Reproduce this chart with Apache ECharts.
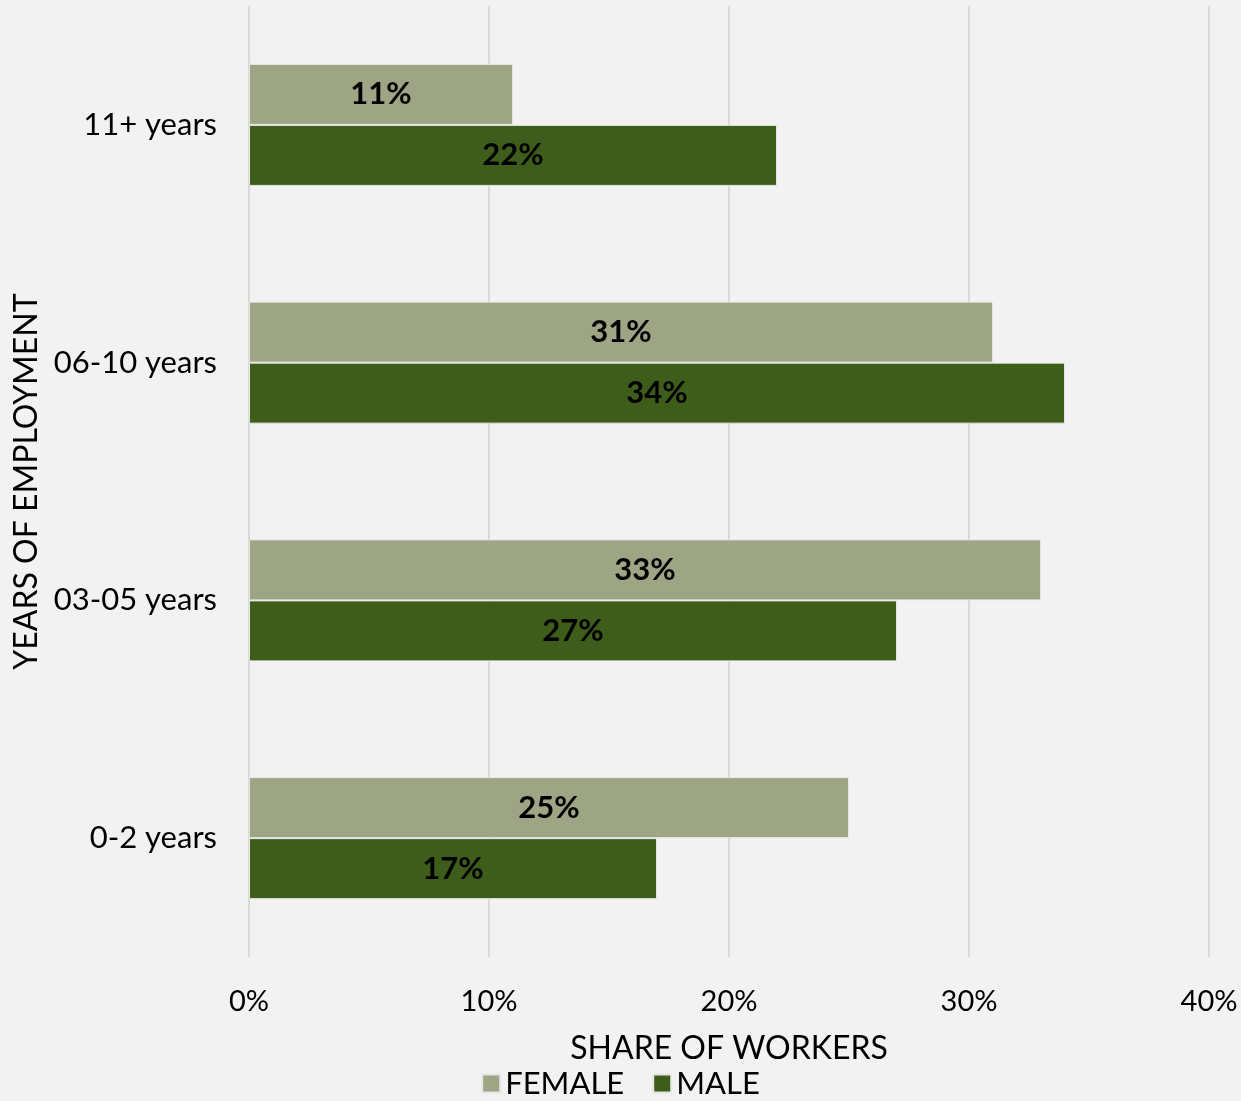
<!DOCTYPE html>
<html><head><meta charset="utf-8">
<script src="https://cdn.jsdelivr.net/npm/echarts@6/dist/echarts.min.js"></script>
<style>html,body{margin:0;padding:0;background:#F2F2F2;}#c{width:1241px;height:1101px;}</style>
</head><body><div id="c"></div>
<script>
const categories = ['0-2 years', '03-05 years', '06-10 years', '11+ years'];
const female = [25, 33, 31, 11];
const male = [17, 27, 34, 22];
const xTicks = [0, 10, 20, 30, 40];

const FONT = 'Lato';
const chart = echarts.init(document.getElementById('c'));
const lbl = {show: true, position: 'inside', formatter: '{c}%', color: '#000', fontFamily: FONT, fontWeight: 'bold', fontSize: 31};
chart.setOption({
  backgroundColor: '#F2F2F2',
  animation: false,
  grid: {left: 249, right: 32, top: 6, bottom: 144, containLabel: false, outerBoundsMode: 'none'},
  legend: {
    data: ['FEMALE', 'MALE'], bottom: -3, left: 'center', itemWidth: 18, itemHeight: 18, itemGap: 28,
    textStyle: {fontFamily: FONT, fontSize: 31, color: '#000'}, icon: 'rect'
  },
  xAxis: {
    type: 'value', min: xTicks[0], max: xTicks[xTicks.length - 1], interval: 10,
    name: 'SHARE OF WORKERS', nameLocation: 'middle', nameGap: 76,
    nameTextStyle: {fontFamily: FONT, fontSize: 32, color: '#000'},
    axisLabel: {formatter: '{value}%', fontFamily: FONT, fontSize: 29, color: '#000', margin: 30},
    axisLine: {show: false}, axisTick: {show: false},
    splitLine: {show: true, lineStyle: {color: '#D9D9D9', width: 2}}
  },
  yAxis: {
    type: 'category', data: categories,
    name: 'YEARS OF EMPLOYMENT', nameLocation: 'middle', nameGap: 205, nameRotate: 90,
    nameTextStyle: {fontFamily: FONT, fontSize: 32, color: '#000'},
    axisLabel: {fontFamily: FONT, fontSize: 31, color: '#000', margin: 32},
    axisLine: {show: false}, axisTick: {show: false}, splitLine: {show: false}
  },
  series: [
    {name: 'FEMALE', type: 'bar', data: female, barWidth: 61, barGap: '0%', itemStyle: {color: '#9EA584', borderColor: '#E6E6E6', borderWidth: 1}, label: lbl},
    {name: 'MALE', type: 'bar', data: male, barWidth: 61, barGap: '0%', itemStyle: {color: '#3E5D1B', borderColor: '#E6E6E6', borderWidth: 1}, label: lbl}
  ]
});
</script></body></html>
